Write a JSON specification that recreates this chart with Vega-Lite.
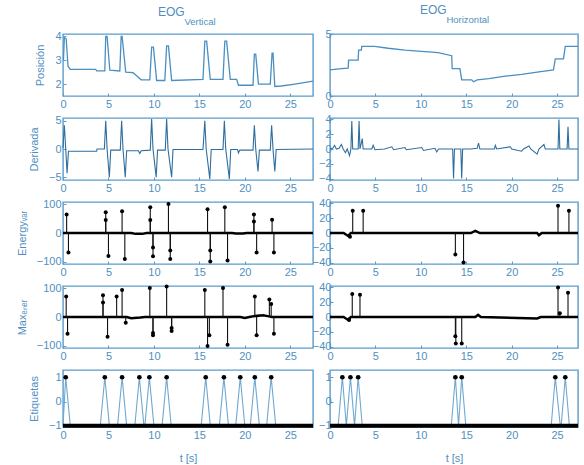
{
  "$schema": "https://vega.github.io/schema/vega-lite/v6.json",
  "autosize": {"type": "pad"},
  "padding": {"left": 15, "top": 2, "right": 3, "bottom": 5},
  "background": "white",
  "columns": 2,
  "spacing": {"row": 22, "column": 17},
  "bounds": "flush",
  "datasets": {
    "posV": [
      {"t":0.05,"v":3.0},{"t":0.15,"v":3.95},{"t":0.35,"v":3.9},{"t":0.55,"v":2.75},{"t":0.8,"v":2.62},{"t":3.6,"v":2.62},{"t":3.7,"v":2.55},{"t":4.6,"v":2.55},{"t":4.7,"v":4.0},{"t":4.85,"v":4.0},{"t":5.15,"v":2.58},{"t":6.25,"v":2.55},{"t":6.4,"v":4.0},{"t":6.5,"v":4.0},{"t":6.9,"v":2.5},{"t":7.7,"v":2.48},{"t":8.1,"v":2.35},{"t":8.6,"v":2.18},{"t":9.55,"v":2.18},{"t":9.75,"v":3.55},{"t":9.95,"v":3.55},{"t":10.3,"v":2.15},{"t":11.2,"v":2.15},{"t":11.4,"v":3.6},{"t":11.6,"v":3.6},{"t":11.95,"v":2.15},{"t":15.4,"v":2.2},{"t":15.6,"v":3.8},{"t":15.8,"v":3.8},{"t":16.2,"v":2.2},{"t":17.6,"v":2.2},{"t":17.8,"v":3.8},{"t":18.0,"v":3.8},{"t":18.4,"v":2.2},{"t":19.1,"v":2.2},{"t":19.3,"v":1.95},{"t":20.9,"v":1.95},{"t":21.05,"v":3.25},{"t":21.2,"v":3.25},{"t":21.5,"v":2.0},{"t":22.8,"v":2.0},{"t":23.0,"v":3.3},{"t":23.1,"v":3.3},{"t":23.3,"v":1.9},{"t":24.0,"v":1.92},{"t":25.5,"v":2.0},{"t":27.5,"v":2.12}
    ],
    "posH": [
      {"t":0.0,"v":2.1},{"t":1.25,"v":2.2},{"t":2.0,"v":2.25},{"t":2.05,"v":2.9},{"t":3.1,"v":2.9},{"t":3.15,"v":3.7},{"t":3.45,"v":3.7},{"t":3.5,"v":4.0},{"t":4.9,"v":4.0},{"t":6.4,"v":3.85},{"t":8.25,"v":3.7},{"t":10.1,"v":3.6},{"t":11.9,"v":3.5},{"t":13.4,"v":3.25},{"t":13.45,"v":2.2},{"t":14.3,"v":2.2},{"t":14.5,"v":1.3},{"t":15.6,"v":1.3},{"t":15.8,"v":1.15},{"t":16.2,"v":1.3},{"t":17.5,"v":1.4},{"t":19.3,"v":1.6},{"t":21.1,"v":1.75},{"t":23.0,"v":1.95},{"t":24.6,"v":2.1},{"t":24.8,"v":3.0},{"t":25.7,"v":3.0},{"t":25.9,"v":4.0},{"t":27.3,"v":4.0}
    ],
    "derV": [
      {"t":0.0,"v":0.2},{"t":0.15,"v":4.2},{"t":0.3,"v":0},{"t":0.45,"v":-4.3},{"t":0.6,"v":-0.4},{"t":3.7,"v":-0.4},{"t":3.75,"v":0},{"t":4.55,"v":0},{"t":4.7,"v":5.0},{"t":4.85,"v":0},{"t":5.1,"v":-5.0},{"t":5.25,"v":-0.2},{"t":6.3,"v":-0.2},{"t":6.45,"v":5.0},{"t":6.6,"v":0},{"t":6.85,"v":-5.0},{"t":7.0,"v":-0.3},{"t":8.3,"v":-0.3},{"t":8.45,"v":-0.8},{"t":8.6,"v":-0.3},{"t":9.6,"v":-0.2},{"t":9.75,"v":5.3},{"t":9.9,"v":0},{"t":10.25,"v":-5.0},{"t":10.4,"v":-0.2},{"t":11.25,"v":-0.2},{"t":11.4,"v":5.3},{"t":11.55,"v":0},{"t":11.95,"v":-5.0},{"t":12.1,"v":-0.1},{"t":15.4,"v":-0.1},{"t":15.6,"v":5.0},{"t":15.75,"v":0},{"t":16.15,"v":-5.3},{"t":16.3,"v":-0.1},{"t":17.6,"v":-0.1},{"t":17.75,"v":5.0},{"t":17.9,"v":0},{"t":18.3,"v":-5.3},{"t":18.45,"v":-0.1},{"t":19.2,"v":-0.1},{"t":19.3,"v":-0.7},{"t":19.45,"v":-0.2},{"t":20.9,"v":-0.2},{"t":21.05,"v":4.2},{"t":21.2,"v":0},{"t":21.45,"v":-4.0},{"t":21.6,"v":-0.2},{"t":22.8,"v":-0.2},{"t":22.95,"v":4.2},{"t":23.1,"v":0},{"t":23.3,"v":-4.0},{"t":23.45,"v":-0.1},{"t":27.5,"v":0}
    ],
    "derH": [
      {"t":0,"v":0},{"t":0.3,"v":0.1},{"t":0.5,"v":0.5},{"t":0.7,"v":0},{"t":1.0,"v":0.1},{"t":1.25,"v":0.6},{"t":1.45,"v":0},{"t":1.7,"v":-0.5},{"t":1.9,"v":0},{"t":2.15,"v":-0.9},{"t":2.3,"v":0},{"t":2.4,"v":3.8},{"t":2.5,"v":0},{"t":3.1,"v":0},{"t":3.2,"v":3.8},{"t":3.3,"v":0},{"t":3.55,"v":1.4},{"t":3.65,"v":0},{"t":4.6,"v":0},{"t":4.75,"v":0.5},{"t":4.95,"v":-0.1},{"t":6.0,"v":0},{"t":6.8,"v":0.3},{"t":7.0,"v":-0.1},{"t":8.25,"v":0.2},{"t":8.4,"v":-0.1},{"t":10.1,"v":0.2},{"t":10.3,"v":-0.2},{"t":11.55,"v":0.1},{"t":11.75,"v":-0.4},{"t":11.95,"v":0},{"t":13.5,"v":0},{"t":13.6,"v":-4.0},{"t":13.7,"v":0},{"t":14.4,"v":0},{"t":14.5,"v":-4.0},{"t":14.6,"v":0},{"t":15.5,"v":0},{"t":16.2,"v":0.1},{"t":16.35,"v":0.8},{"t":16.5,"v":0},{"t":18.1,"v":0},{"t":18.2,"v":0.5},{"t":18.35,"v":0},{"t":19.85,"v":0.3},{"t":20.0,"v":0},{"t":21.1,"v":-0.3},{"t":21.3,"v":0},{"t":21.9,"v":0.4},{"t":22.1,"v":0},{"t":22.8,"v":-0.7},{"t":23.0,"v":0},{"t":23.55,"v":0.6},{"t":23.7,"v":0},{"t":25.1,"v":0},{"t":25.2,"v":4.0},{"t":25.3,"v":0},{"t":26.1,"v":0},{"t":26.2,"v":3.0},{"t":26.3,"v":0},{"t":27.3,"v":0}
    ],
    "baseEV": [{"t":0,"v":0},{"t":7.5,"v":0},{"t":8.0,"v":-3},{"t":8.7,"v":-3},{"t":9.2,"v":0},{"t":18.6,"v":0},{"t":19.0,"v":-2},{"t":19.8,"v":-2},{"t":20.2,"v":0},{"t":27.5,"v":0}],
    "stemEV": [
      {"t":0.4,"v":64},{"t":0.6,"v":-67},{"t":4.7,"v":72},{"t":4.7,"v":45},{"t":5.0,"v":-79},{"t":6.5,"v":75},{"t":6.8,"v":-90},{"t":9.6,"v":89},{"t":9.6,"v":45},{"t":9.9,"v":-80},{"t":9.9,"v":-50},{"t":11.6,"v":100},{"t":11.8,"v":-90},{"t":11.8,"v":-60},{"t":15.9,"v":82},{"t":16.2,"v":-98},{"t":16.2,"v":-60},{"t":17.8,"v":89},{"t":18.1,"v":-95},{"t":21.0,"v":64},{"t":21.0,"v":40},{"t":21.3,"v":-67},{"t":23.0,"v":46},{"t":23.2,"v":-67}
    ],
    "baseMV": [{"t":0,"v":0},{"t":7.0,"v":0},{"t":7.5,"v":-4},{"t":8.5,"v":-2},{"t":9.0,"v":0},{"t":19.5,"v":0},{"t":20.0,"v":-3},{"t":20.5,"v":0},{"t":21.0,"v":3},{"t":22.0,"v":6},{"t":22.5,"v":3},{"t":23.0,"v":0},{"t":27.5,"v":0}],
    "stemMV": [
      {"t":0.35,"v":71},{"t":0.5,"v":-58},{"t":4.4,"v":75},{"t":4.4,"v":50},{"t":4.9,"v":-68},{"t":5.9,"v":71},{"t":6.5,"v":93},{"t":6.9,"v":-20},{"t":9.55,"v":100},{"t":9.9,"v":-63},{"t":9.9,"v":-55},{"t":11.4,"v":105},{"t":11.95,"v":-48},{"t":11.95,"v":-38},{"t":15.6,"v":93},{"t":15.9,"v":-100},{"t":16.1,"v":-63},{"t":17.6,"v":100},{"t":18.1,"v":-96},{"t":21.1,"v":71},{"t":21.3,"v":-63},{"t":22.7,"v":60},{"t":22.9,"v":45},{"t":23.2,"v":-58}
    ],
    "baseER": [{"t":0,"v":0},{"t":1.5,"v":0},{"t":2.0,"v":-4},{"t":2.3,"v":0},{"t":15.5,"v":0},{"t":16.0,"v":3},{"t":16.5,"v":0},{"t":22.8,"v":0},{"t":23.0,"v":-3},{"t":23.3,"v":0},{"t":27.3,"v":0}],
    "stemER": [{"t":2.5,"v":30},{"t":3.65,"v":30},{"t":2.2,"v":-5},{"t":13.8,"v":-29},{"t":14.7,"v":-40},{"t":25.1,"v":37},{"t":26.3,"v":30}],
    "baseMR": [{"t":0,"v":0},{"t":1.5,"v":0},{"t":2.0,"v":-4},{"t":2.3,"v":0},{"t":16.0,"v":0},{"t":16.3,"v":3},{"t":16.6,"v":0},{"t":22.8,"v":-2},{"t":23.2,"v":0},{"t":27.3,"v":0}],
    "stemMR": [{"t":2.45,"v":31},{"t":3.3,"v":30},{"t":2.1,"v":-4},{"t":13.8,"v":-26},{"t":13.85,"v":-36},{"t":14.5,"v":-36},{"t":25.1,"v":40},{"t":25.3,"v":5},{"t":26.2,"v":33}],
    "tentV": [
      {"t":0,"v":-1},{"t":0.3,"v":1},{"t":0.8,"v":-1},{"t":4.1,"v":-1},{"t":4.6,"v":1},{"t":5.1,"v":-1},{"t":6.0,"v":-1},{"t":6.5,"v":1},{"t":7.0,"v":-1},{"t":7.9,"v":-1},{"t":8.4,"v":1},{"t":8.9,"v":-1},{"t":9.0,"v":-1},{"t":9.5,"v":1},{"t":10.0,"v":-1},{"t":10.9,"v":-1},{"t":11.4,"v":1},{"t":11.9,"v":-1},{"t":15.2,"v":-1},{"t":15.7,"v":1},{"t":16.2,"v":-1},{"t":17.2,"v":-1},{"t":17.7,"v":1},{"t":18.2,"v":-1},{"t":19.0,"v":-1},{"t":19.5,"v":1},{"t":20.0,"v":-1},{"t":20.6,"v":-1},{"t":21.1,"v":1},{"t":21.6,"v":-1},{"t":22.4,"v":-1},{"t":22.9,"v":1},{"t":23.4,"v":-1},{"t":27.5,"v":-1}
    ],
    "dotV": [{"t":0.3,"v":1},{"t":4.6,"v":1},{"t":6.5,"v":1},{"t":8.4,"v":1},{"t":9.5,"v":1},{"t":11.4,"v":1},{"t":15.7,"v":1},{"t":17.7,"v":1},{"t":19.5,"v":1},{"t":21.1,"v":1},{"t":22.9,"v":1}],
    "tentH": [
      {"t":0,"v":-1},{"t":0.9,"v":-1},{"t":1.36,"v":1},{"t":1.8,"v":-1},{"t":2.25,"v":1},{"t":2.7,"v":-1},{"t":3.1,"v":1},{"t":3.55,"v":-1},{"t":13.35,"v":-1},{"t":13.8,"v":1},{"t":14.15,"v":-1},{"t":14.5,"v":1},{"t":14.95,"v":-1},{"t":24.35,"v":-1},{"t":24.8,"v":1},{"t":25.35,"v":-1},{"t":25.45,"v":-1},{"t":25.9,"v":1},{"t":26.35,"v":-1},{"t":27.3,"v":-1}
    ],
    "dotH": [{"t":1.36,"v":1},{"t":2.25,"v":1},{"t":3.1,"v":1},{"t":13.8,"v":1},{"t":14.5,"v":1},{"t":24.8,"v":1},{"t":25.9,"v":1}],
    "baseLV": [{"t":0,"v":-1},{"t":27.5,"v":-1}],
    "baseLH": [{"t":0,"v":-1},{"t":27.3,"v":-1}]
  },
  "concat": [
    {
      "width": 250, "height": 62,
      "title": {"text": "EOG", "subtitle": "\u200b\u00a0\u00a0\u00a0\u00a0\u00a0\u00a0\u00a0\u00a0\u00a0\u00a0Vertical", "anchor": "start", "frame": "group", "dx": 95},
      "data": {"name": "posV"},
      "mark": {"type": "line", "color": "#4a8fc2", "strokeWidth": 1.3},
      "encoding": {
        "x": {"field": "t", "type": "quantitative", "scale": {"domain": [0, 27.5], "nice": false, "zero": false}, "axis": {"values": [0,5,10,15,20,25], "title": null}},
        "y": {"field": "v", "type": "quantitative", "scale": {"domain": [1.5, 4.1], "nice": false, "zero": false}, "axis": {"values": [2,3,4], "title": "Posición"}}
      }
    },
    {
      "width": 248, "height": 62,
      "title": {"text": "EOG", "subtitle": "\u200b\u00a0\u00a0\u00a0\u00a0\u00a0\u00a0\u00a0\u00a0\u00a0\u00a0Horizontal", "anchor": "start", "frame": "group", "dx": 90},
      "data": {"name": "posH"},
      "mark": {"type": "line", "color": "#4a8fc2", "strokeWidth": 1.3},
      "encoding": {
        "x": {"field": "t", "type": "quantitative", "scale": {"domain": [0, 27.3], "nice": false, "zero": false}, "axis": {"values": [0,5,10,15,20,25], "title": null}},
        "y": {"field": "v", "type": "quantitative", "scale": {"domain": [0, 5], "nice": false}, "axis": {"values": [0,5], "title": null, "labelPadding": 2}}
      }
    },
    {
      "width": 250, "height": 62,
      "data": {"name": "derV"},
      "mark": {"type": "line", "color": "#2f6e9e", "strokeWidth": 1.1},
      "encoding": {
        "x": {"field": "t", "type": "quantitative", "scale": {"domain": [0, 27.5], "nice": false, "zero": false}, "axis": {"values": [0,5,10,15,20,25], "title": null}},
        "y": {"field": "v", "type": "quantitative", "scale": {"domain": [-5.5, 5.5], "nice": false}, "axis": {"values": [-5,0,5], "title": "Derivada"}}
      }
    },
    {
      "width": 248, "height": 62,
      "data": {"name": "derH"},
      "mark": {"type": "line", "color": "#2f6e9e", "strokeWidth": 1.1},
      "encoding": {
        "x": {"field": "t", "type": "quantitative", "scale": {"domain": [0, 27.3], "nice": false, "zero": false}, "axis": {"values": [0,5,10,15,20,25], "title": null}},
        "y": {"field": "v", "type": "quantitative", "scale": {"domain": [-4.2, 4.2], "nice": false}, "axis": {"values": [-4,-2,0,2,4], "title": null, "labelPadding": 2}}
      }
    },
    {
      "width": 250, "height": 62,
      "encoding": {
        "x": {"field": "t", "type": "quantitative", "scale": {"domain": [0, 27.5], "nice": false, "zero": false}, "axis": {"values": [0,5,10,15,20,25], "title": null}},
        "y": {"field": "v", "type": "quantitative", "scale": {"domain": [-107, 107], "nice": false}, "axis": {"values": [-100,0,100], "title": "Energyᵥₐᵣ"}}
      },
      "layer": [
        {"data": {"name": "baseEV"}, "mark": {"type": "line", "color": "#000000", "strokeWidth": 2.5}},
        {"data": {"name": "stemEV"}, "mark": {"type": "rule", "color": "#111111", "strokeWidth": 1.1}, "encoding": {"y2": {"datum": 0}}},
        {"data": {"name": "stemEV"}, "mark": {"type": "point", "filled": true, "color": "#000000", "size": 16, "opacity": 1}}
      ]
    },
    {
      "width": 248, "height": 62,
      "encoding": {
        "x": {"field": "t", "type": "quantitative", "scale": {"domain": [0, 27.3], "nice": false, "zero": false}, "axis": {"values": [0,5,10,15,20,25], "title": null}},
        "y": {"field": "v", "type": "quantitative", "scale": {"domain": [-42, 42], "nice": false}, "axis": {"values": [-40,-20,0,20,40], "title": null, "labelPadding": 2}}
      },
      "layer": [
        {"data": {"name": "baseER"}, "mark": {"type": "line", "color": "#000000", "strokeWidth": 2.5}},
        {"data": {"name": "stemER"}, "mark": {"type": "rule", "color": "#111111", "strokeWidth": 1.1}, "encoding": {"y2": {"datum": 0}}},
        {"data": {"name": "stemER"}, "mark": {"type": "point", "filled": true, "color": "#000000", "size": 16, "opacity": 1}}
      ]
    },
    {
      "width": 250, "height": 62,
      "encoding": {
        "x": {"field": "t", "type": "quantitative", "scale": {"domain": [0, 27.5], "nice": false, "zero": false}, "axis": {"values": [0,5,10,15,20,25], "title": null}},
        "y": {"field": "v", "type": "quantitative", "scale": {"domain": [-107, 107], "nice": false}, "axis": {"values": [-100,0,100], "title": "Maxₑₙₑᵣ"}}
      },
      "layer": [
        {"data": {"name": "baseMV"}, "mark": {"type": "line", "color": "#000000", "strokeWidth": 2.5}},
        {"data": {"name": "stemMV"}, "mark": {"type": "rule", "color": "#111111", "strokeWidth": 1.1}, "encoding": {"y2": {"datum": 0}}},
        {"data": {"name": "stemMV"}, "mark": {"type": "point", "filled": true, "color": "#000000", "size": 16, "opacity": 1}}
      ]
    },
    {
      "width": 248, "height": 62,
      "encoding": {
        "x": {"field": "t", "type": "quantitative", "scale": {"domain": [0, 27.3], "nice": false, "zero": false}, "axis": {"values": [0,5,10,15,20,25], "title": null}},
        "y": {"field": "v", "type": "quantitative", "scale": {"domain": [-42, 42], "nice": false}, "axis": {"values": [-40,-20,0,20,40], "title": null, "labelPadding": 2}}
      },
      "layer": [
        {"data": {"name": "baseMR"}, "mark": {"type": "line", "color": "#000000", "strokeWidth": 2.5}},
        {"data": {"name": "stemMR"}, "mark": {"type": "rule", "color": "#111111", "strokeWidth": 1.1}, "encoding": {"y2": {"datum": 0}}},
        {"data": {"name": "stemMR"}, "mark": {"type": "point", "filled": true, "color": "#000000", "size": 16, "opacity": 1}}
      ]
    },
    {
      "width": 250, "height": 57,
      "encoding": {
        "x": {"field": "t", "type": "quantitative", "scale": {"domain": [0, 27.5], "nice": false, "zero": false}, "axis": {"values": [0,5,10,15,20,25], "title": "t [s]"}},
        "y": {"field": "v", "type": "quantitative", "scale": {"domain": [-1.05, 1.3], "nice": false}, "axis": {"values": [-1,0,1], "title": "Etiquetas"}}
      },
      "layer": [
        {"data": {"name": "tentV"}, "mark": {"type": "line", "color": "#6fa8d2", "strokeWidth": 1.1}},
        {"data": {"name": "baseLV"}, "mark": {"type": "line", "color": "#000000", "strokeWidth": 4}},
        {"data": {"name": "dotV"}, "mark": {"type": "point", "filled": true, "color": "#000000", "size": 22, "opacity": 1}}
      ]
    },
    {
      "width": 248, "height": 57,
      "encoding": {
        "x": {"field": "t", "type": "quantitative", "scale": {"domain": [0, 27.3], "nice": false, "zero": false}, "axis": {"values": [0,5,10,15,20,25], "title": "t [s]"}},
        "y": {"field": "v", "type": "quantitative", "scale": {"domain": [-1.05, 1.3], "nice": false}, "axis": {"values": [-1,0,1], "title": null, "labelPadding": 2}}
      },
      "layer": [
        {"data": {"name": "tentH"}, "mark": {"type": "line", "color": "#6fa8d2", "strokeWidth": 1.1}},
        {"data": {"name": "baseLH"}, "mark": {"type": "line", "color": "#000000", "strokeWidth": 4}},
        {"data": {"name": "dotH"}, "mark": {"type": "point", "filled": true, "color": "#000000", "size": 22, "opacity": 1}}
      ]
    }
  ],
  "config": {
    "view": {"stroke": "#5a9ccb", "strokeWidth": 1.4},
    "axis": {
      "domain": false, "grid": false, "labelFlush": false,
      "labelFont": "Liberation Sans", "labelFontSize": 11, "labelColor": "#4f8fc0",
      "titleFont": "Liberation Sans", "titleFontSize": 11, "titleFontWeight": "normal", "titleColor": "#4f8fc0",
      "tickColor": "#5a9ccb", "tickSize": -3
    },
    "axisY": {"titlePadding": 9, "labelPadding": 5},
    "axisX": {"titlePadding": 12, "labelPadding": 5},
    "title": {
      "font": "Liberation Sans", "fontSize": 12, "fontWeight": "normal", "color": "#4f8fc0",
      "subtitleFont": "Liberation Sans", "subtitleFontSize": 9.5, "subtitleColor": "#4f8fc0",
      "subtitlePadding": -2, "offset": 3
    }
  }
}
